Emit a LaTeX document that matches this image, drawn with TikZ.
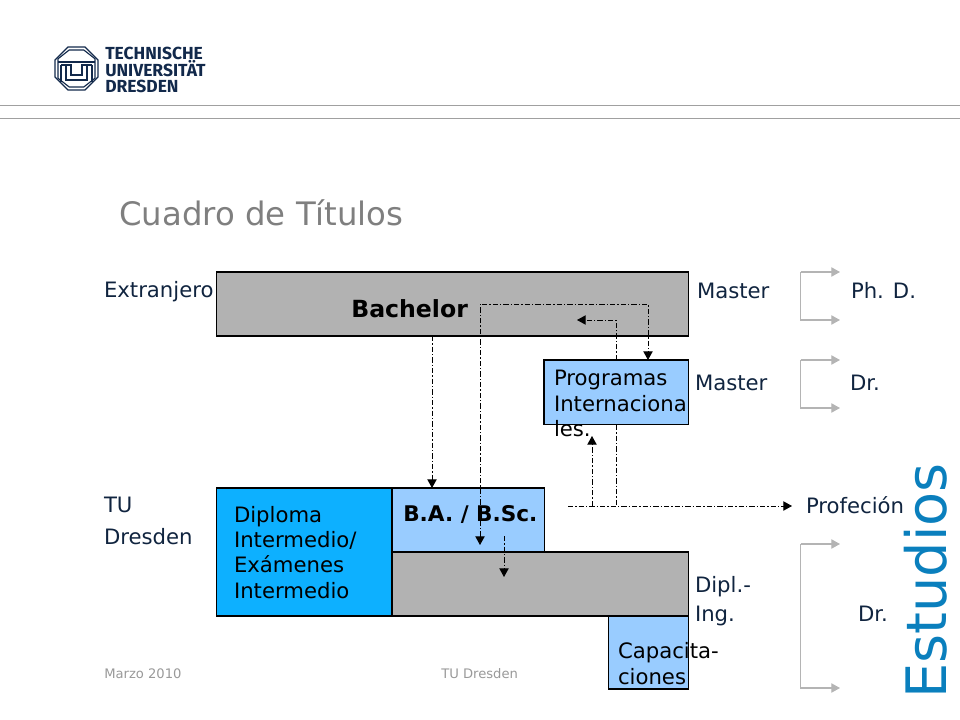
\documentclass[tikz,border=0pt]{standalone}
\usepackage{fontspec}
\setmainfont{DejaVu Sans}
\newfontfamily\logofont{Fira Sans}
\usetikzlibrary{arrows.meta}
\definecolor{inkc}{HTML}{10243F}
\definecolor{boxgray}{HTML}{B2B2B2}
\definecolor{lightb}{HTML}{99CCFF}
\definecolor{strongb}{HTML}{0DB0FF}
\definecolor{greyline}{HTML}{B4B4B4}
\definecolor{rulec}{HTML}{A0A0A0}
\definecolor{titlec}{HTML}{7F7F7F}
\definecolor{footc}{HTML}{999999}
\definecolor{vertc}{HTML}{0A7FBD}
\definecolor{logoc}{HTML}{12294B}
\tikzset{
  box/.style={draw=black,line width=0.85pt,inner sep=0pt,outer sep=0pt},
  lab/.style={anchor=base west,inner sep=0pt,outer sep=0pt,text=inkc,font=\fontsize{15.9}{15.9}\selectfont},
  blk/.style={lab,text=black},
  dd/.style={draw=black,line width=0.65pt,dash pattern=on 4pt off 1.5pt on 1pt off 1.5pt},
  tip/.style={-{Triangle[length=6.5pt,width=7pt]}},
  tips/.style={{Triangle[length=6.5pt,width=7pt]}-{Triangle[length=6.5pt,width=7pt]}},
  grey/.style={draw=greyline,line width=0.85pt,-{Triangle[length=6.5pt,width=7pt,color=greyline]}},
  logoline/.style={draw=logoc,line width=0.85pt,line join=miter},
  logotext/.style={anchor=north west,inner sep=0pt,align=left,text=logoc,font=\logofont\bfseries\fontsize{13.1}{12}\selectfont},
  foot/.style={anchor=base west,inner sep=0pt,text=footc,font=\fontsize{9.85}{10}\selectfont},
}
\begin{document}
\begin{tikzpicture}[x=0.75pt,y=-0.75pt]
\useasboundingbox (0,0) rectangle (960,720);
% logo
\foreach \r in {0,3}{
  \draw[logoline] (68+\r*0.4,47+\r) -- (85-\r*0.4,47+\r) -- (98-\r,60-\r*0.4) -- (98-\r,77+\r*0.4) -- (85-\r*0.4,90-\r) -- (68+\r*0.4,90-\r) -- (55+\r,77+\r*0.4) -- (55+\r,60-\r*0.4) -- cycle;
}
\draw[logoline] (58,62) -- (95,62);
\draw[logoline] (61,65) -- (71,65) -- (71,75) -- (82,75) -- (82,65) -- (92,65);
\draw[logoline] (61,65) -- (61,82);
\draw[logoline] (92,65) -- (92,82);
\draw[logoline] (66,65) -- (66,80) -- (87,80) -- (87,65);
\node[logotext] (logo) at (105,46.5) {TECHNISCHE\\UNIVERSITÄT\\DRESDEN};
% rules
\draw[rulec,line width=0.7pt] (0,105) -- (960,105);
\draw[rulec,line width=0.7pt] (0,118) -- (960,118);
% title
\node[anchor=base west,inner sep=0pt,text=titlec,font=\fontsize{24.25}{24}\selectfont] (title) at (119,226) {Cuadro de Títulos};
% boxes
\path[box,fill=boxgray] (216.5,272) rectangle (688.5,336);
\path[box,fill=lightb] (544,360) rectangle (688.5,424.5);
\path[box,fill=lightb] (392,488) rectangle (544.5,552);
\path[box,fill=boxgray] (392,552) rectangle (688.5,616);
\path[box,fill=strongb] (216.5,488) rectangle (392,616);
\path[box,fill=lightb] (608.5,616) rectangle (688.5,689);
% texts
\node[lab] (ext) at (104,297) {Extranjero};
\node[lab] (m1) at (697,298) {Master};
\node[lab] (phd) at (851,298) {Ph. D.};
\node[lab] (m2) at (695,390) {Master};
\node[lab] (dr1) at (850,390) {Dr.};
\node[lab] (tu) at (104,512) {TU};
\node[lab] (dres) at (104,544) {Dresden};
\node[anchor=base west,inner sep=0pt,font=\bfseries\fontsize{17.7}{18}\selectfont] (bachelor) at (351,317) {Bachelor};
\node[anchor=base west,inner sep=0pt,font=\bfseries\fontsize{16.2}{16}\selectfont] (ba) at (403,521.5) {B.A. / B.Sc.};
\node[blk] (p1) at (554,385) {Programas};
\node[blk] (p2) at (554,411) {Internaciona};
\node[blk] (p3) at (554,436) {les.};
\node[blk] (d1) at (234,522) {Diploma};
\node[blk] (d2) at (234,547) {Intermedio/};
\node[blk] (d3) at (234,572) {Exámenes};
\node[blk] (d4) at (234,598) {Intermedio};
\node[lab] (prof) at (806,513) {Profeción};
\node[lab] (dip1) at (695,592) {Dipl.-};
\node[lab] (dip2) at (695,621) {Ing.};
\node[lab] (dr2) at (858,621) {Dr.};
\node[blk] (c1) at (618,658) {Capacita-};
\node[blk] (c2) at (618,684) {ciones};
\node[foot] (fa) at (104,678) {Marzo 2010};
\node[foot] (fb) at (441,678) {TU Dresden};
\node[anchor=base west,inner sep=0pt,rotate=90,text=vertc,font=\fontsize{41.8}{44}\selectfont] (est) at (946,699) {Estudios};
% dash-dot connectors
\coordinate (a1) at (432,336); \coordinate (a2) at (432,488);
\draw[dd,tip] (a1) -- (a2);
\coordinate (b1) at (480,545); \coordinate (b2) at (480,304); \coordinate (b3) at (648,304); \coordinate (b4) at (648,360);
\draw[dd,tips] (b1) -- (b2) -- (b3) -- (b4);
\coordinate (c3) at (616,360); \coordinate (c4) at (616,320); \coordinate (c5) at (577,320);
\draw[dd,tip] (c3) -- (c4) -- (c5);
\coordinate (e1) at (616,425); \coordinate (e2) at (616,506);
\draw[dd] (e1) -- (e2);
\coordinate (f1) at (568,506); \coordinate (f2) at (792,506);
\draw[dd,tip] (f1) -- (f2);
\coordinate (g1) at (592,506); \coordinate (g2) at (592,436);
\draw[dd,tip] (g1) -- (g2);
\coordinate (h1) at (504,536); \coordinate (h2) at (504,577);
\draw[dd,tip] (h1) -- (h2);
% grey brackets
\foreach \n/\ya/\yb in {p/272/320,q/360/408,r/544/688}{
  \coordinate (\n s) at (800.5,\ya);
  \coordinate (\n t) at (800.5,\yb);
  \coordinate (\n a) at (840,\ya);
  \coordinate (\n b) at (840,\yb);
  \draw[grey] (\n s) -- (\n a);
  \draw[grey] (\n s) -- (\n t) -- (\n b);
}
\end{tikzpicture}
\end{document}
